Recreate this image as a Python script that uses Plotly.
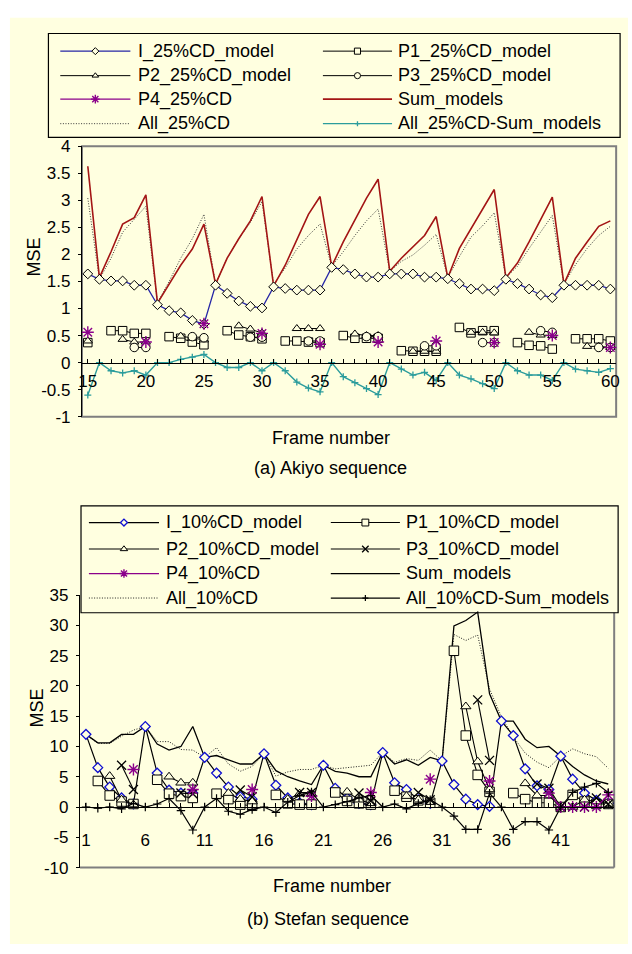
import plotly.graph_objects as go

W, H = 632, 954

# ---------------- (a) Akiyo sequence : frames 15..60 ----------------
frames_a = list(range(15, 61))
i_a = [1.64, 1.54, 1.51, 1.51, 1.43, 1.43,
       1.07, 0.96, 0.92, 0.78, 0.71,
       1.43, 1.28, 1.14, 1.04, 1.01,
       1.40, 1.37, 1.34, 1.34, 1.34,
       1.76, 1.72, 1.64, 1.58, 1.58,
       1.64, 1.64, 1.64, 1.58, 1.58,
       1.55, 1.46, 1.36, 1.36, 1.33,
       1.54, 1.46, 1.36, 1.25, 1.20,
       1.43, 1.43, 1.43, 1.43, 1.36]
p1_a = [0.37, None, 0.59, 0.59, 0.54, 0.54,
        None, 0.48, 0.45, 0.38, 0.33,
        None, 0.59, 0.51, 0.48, 0.44,
        None, 0.40, 0.40, 0.38, 0.37,
        None, 0.50, 0.45, 0.45, 0.45,
        None, 0.22, 0.21, 0.21, 0.21,
        None, 0.65, 0.55, 0.59, 0.59,
        None, 0.37, 0.32, 0.31, 0.25,
        None, 0.44, 0.44, 0.44, 0.40]
p2_a = [0.40, None, None, 0.43, 0.38, 0.38,
        None, None, 0.49, 0.45, 0.42,
        None, None, 0.68, 0.62, 0.55,
        None, None, 0.63, 0.63, 0.63,
        None, None, 0.53, 0.50, 0.50,
        None, None, 0.21, 0.21, 0.21,
        None, None, 0.56, 0.56, 0.55,
        None, None, 0.56, 0.51, 0.50,
        None, None, 0.30, 0.30, 0.28]
p3_a = [None, None, None, None, 0.28, 0.28,
        None, None, None, 0.48, 0.46,
        None, None, None, 0.47, 0.47,
        None, None, None, 0.40, 0.40,
        None, None, None, 0.48, 0.48,
        None, None, None, 0.31, 0.31,
        None, None, None, 0.37, 0.37,
        None, None, None, 0.59, 0.56,
        None, None, None, 0.28, 0.28]
p4_a = [0.56, None, None, None, None, 0.38,
        None, None, None, None, 0.72,
        None, None, None, None, 0.54,
        None, None, None, None, 0.34,
        None, None, None, None, 0.38,
        None, None, None, None, 0.40,
        None, None, None, None, 0.37,
        None, None, None, None, 0.50,
        None, None, None, None, 0.28]
sum_a = [3.63, 1.57, 2.05, 2.56, 2.68, 3.10,
         1.10, 1.45, 1.80, 2.10, 2.56,
         1.45, 1.93, 2.29, 2.62, 3.07,
         1.42, 1.80, 2.26, 2.74, 3.07,
         1.78, 2.23, 2.65, 3.04, 3.39,
         1.69, 1.93, 2.14, 2.35, 2.70,
         1.57, 2.11, 2.47, 2.83, 3.20,
         1.57, 1.84, 2.23, 2.65, 3.06,
         1.45, 1.93, 2.23, 2.52, 2.62]
all_a = [3.04, 1.54, 1.93, 2.41, 2.65, 2.89,
         1.11, 1.50, 1.93, 2.29, 2.74,
         1.45, 1.93, 2.29, 2.59, 2.98,
         1.45, 1.75, 2.10, 2.35, 2.56,
         1.78, 2.05, 2.35, 2.62, 2.84,
         1.69, 1.87, 1.99, 2.17, 2.37,
         1.57, 1.96, 2.32, 2.53, 2.77,
         1.57, 1.78, 2.11, 2.41, 2.72,
         1.45, 1.81, 2.11, 2.35, 2.52]
diff_a = [-0.60, 0.00, -0.15, -0.19, -0.15, -0.23,
          0.00, 0.00, 0.06, 0.10, 0.15,
          0.00, -0.09, -0.09, 0.00, -0.15,
          0.00, -0.15, -0.36, -0.47, -0.54,
          0.00, -0.26, -0.37, -0.48, -0.59,
          0.00, -0.12, -0.23, -0.18, -0.33,
          0.00, -0.23, -0.30, -0.39, -0.48,
          0.00, -0.15, -0.23, -0.23, -0.33,
          0.00, -0.12, -0.15, -0.18, -0.11]

# ---------------- (b) Stefan sequence : frames 1..45 ----------------
frames_b = list(range(1, 46))
i_b = [12.0, 6.5, 3.3, 1.5, 0.5,
       13.3, 5.6, 2.8, 2.3, 2.3,
       8.2, 5.6, 3.3, 1.7, 1.3,
       8.8, 3.6, 1.5, 0.7, 0.4,
       6.9, 3.1, 1.5, 0.6, 0.4,
       9.0, 4.0, 2.9, 1.2, 0.6,
       7.6, 3.7, 1.3, 0.4, 0.1,
       14.2, 11.8, 6.3, 3.5, 2.9,
       8.4, 4.6, 2.3, 1.1, 0.6]
p1_b = [None, 4.3, 1.9, 0.9, 0.5,
        None, 4.5, 2.2, 1.8, 1.5,
        None, 2.2, 1.3, 0.4, 0.2,
        None, 2.0, 0.6, 0.4, 0.4,
        None, 2.4, 1.0, 0.6, 0.4,
        None, 2.7, 1.7, 1.1, 0.7,
        None, 25.8, 11.8, 5.3, 2.5,
        None, 2.3, 1.3, 0.7, 0.7,
        0.0, 2.0, 0.9, 0.5, 0.5]
p2_b = [None, None, 5.1, 1.2, 0.4,
        None, None, 5.0, 4.0, 4.0,
        None, None, 2.3, 1.3, 0.9,
        None, None, 1.3, 2.2, 2.2,
        None, None, 2.5, 1.2, 0.6,
        None, None, 1.8, 1.2, 0.8,
        None, None, 16.6, 7.5, 2.9,
        None, None, 3.9, 1.9, 1.9,
        0.0, 0.0, 1.2, 0.9, 0.5]
p3_b = [None, None, None, 6.9, 2.9,
        None, None, None, 2.3, 2.2,
        None, None, None, 2.8, 1.7,
        None, None, None, 2.4, 2.4,
        None, None, None, 2.3, 1.0,
        None, None, None, 2.4, 1.2,
        None, None, None, 17.7, 7.7,
        None, None, None, 3.8, 3.1,
        0.0, 0.0, 0.0, 1.5, 0.5]
p4_b = [None, None, None, None, 6.2,
        None, None, None, None, 2.9,
        None, None, None, None, 2.9,
        None, None, None, None, 1.8,
        None, None, None, None, 2.4,
        None, None, None, None, 4.6,
        None, None, None, None, 4.3,
        None, None, None, None, 2.3,
        0.0, 0.0, 0.0, 0.0, 2.0]
sum_b = [12.0, 10.6, 10.6, 12.0, 12.0,
         13.3, 10.4, 9.4, 10.0, 13.3,
         8.2, 8.5, 7.8, 7.1, 7.1,
         8.8, 6.0, 5.0, 4.3, 3.7,
         6.9, 5.9, 5.6, 5.0, 5.0,
         9.0, 7.1, 7.8, 6.9, 8.2,
         7.6, 29.9, 30.8, 32.2, 18.7,
         14.2, 14.2, 11.2, 9.8, 10.0,
         8.4, 6.7, 5.3, 4.3, 3.8]
all_b = [12.0, 10.5, 10.5, 11.7, 12.7,
         13.3, 10.8, 10.8, 9.5, 9.4,
         8.2, 9.8, 7.1, 5.9, 6.7,
         8.8, 5.1, 5.8, 6.2, 6.2,
         6.9, 6.3, 6.5, 6.7, 6.9,
         9.0, 7.4, 8.0, 7.7, 9.4,
         7.6, 28.5, 27.5, 28.4, 19.5,
         14.9, 11.6, 8.9, 7.4, 6.5,
         8.4, 9.6, 8.8, 8.3, 6.4]
diff_b = [0.0, -0.2, 0.0, -0.3, 0.6,
          0.0, 0.5, 1.4, -0.6, -3.8,
          0.0, 1.4, -0.7, -1.2, -0.4,
          0.0, -0.9, 0.8, 1.9, 2.5,
          0.0, 0.4, 0.9, 1.5, 1.9,
          0.0, 0.5, -0.3, 0.6, 1.2,
          0.0, -1.5, -3.7, -3.7, 2.3,
          0.0, -3.7, -2.4, -2.4, -3.8,
          0.0, 2.4, 3.3, 3.9, 2.4]

# ---------------- tick labels & names ----------------
ytick_a = [-1, -0.5, 0, 0.5, 1, 1.5, 2, 2.5, 3, 3.5, 4]
ytext_a = ["-1", "-0.5", "0", "0.5", "1", "1.5", "2", "2.5", "3", "3.5", "4"]
xtick_a = [15, 20, 25, 30, 35, 40, 45, 50, 55, 60]
ytick_b = [-10, -5, 0, 5, 10, 15, 20, 25, 30, 35]
ytext_b = ["-10", "-5", "0", "5", "10", "15", "20", "25", "30", "35"]
xtick_b = [1, 6, 11, 16, 21, 26, 31, 36, 41]

names_a = ["I_25%CD_model", "P1_25%CD_model", "P2_25%CD_model", "P3_25%CD_model",
           "P4_25%CD", "Sum_models", "All_25%CD", "All_25%CD-Sum_models"]
names_b = ["I_10%CD_model", "P1_10%CD_model", "P2_10%CD_model", "P3_10%CD_model",
           "P4_10%CD", "Sum_models", "All_10%CD", "All_10%CD-Sum_models"]

# ---------------- styling / layout constants ----------------
CREAM = "#FFFFE0"
FONT = "Liberation Sans, Arial, sans-serif"
PURPLE = "#8B008B"
BLACK = "#000000"
DOTS = "1px,1.6px"


def fx(p):
    return p / W


def fy(p):
    return 1 - p / H


BOX_A = (79, 140, 620, 416)   # left, top, right, bottom (px)
BOX_B = (77, 598, 618, 876)
YR_A = (-1, 4)
YR_B = (-10, 35)
LEG_A = dict(box=(45, 25, 624, 131), rows=[43, 68, 92, 117],
             cols=[(57, 128, 134), (323, 393, 397)])
LEG_B = dict(box=(78, 507, 622, 616), rows=[524, 551, 576, 601],
             cols=[(86, 157, 162), (331, 401, 405)])


def mk(symbol, size, fill=CREAM, edge=BLACK, width=1.0):
    return dict(symbol=symbol, size=size, color=fill, line=dict(color=edge, width=width))


styles_a = [
    dict(line=dict(color="#2626A6", width=1.3), marker=mk("diamond", 7.5)),
    dict(line=dict(color=BLACK, width=1), marker=mk("square", 8.5)),
    dict(line=dict(color=BLACK, width=1), marker=mk("triangle-up", 8)),
    dict(line=dict(color=BLACK, width=1), marker=mk("circle", 8.5)),
    dict(line=dict(color=PURPLE, width=1.3), marker=mk("asterisk-open", 10, PURPLE, PURPLE, 1.4)),
    dict(line=dict(color="#A31515", width=1.6), marker=None),
    dict(line=dict(color="#3A3A3A", width=1, dash=DOTS), marker=None),
    dict(line=dict(color="#2B9C9C", width=1.4), marker=mk("cross-thin-open", 5, "#2B9C9C", "#2B9C9C", 1.3)),
]
styles_b = [
    dict(line=dict(color=BLACK, width=1.2), marker=mk("diamond", 7.5, CREAM, "#1010D0", 1.3)),
    dict(line=dict(color=BLACK, width=1.1), marker=mk("square", 9.5)),
    dict(line=dict(color=BLACK, width=1.1), marker=mk("triangle-up", 9)),
    dict(line=dict(color=BLACK, width=1.1), marker=mk("x-thin-open", 9, BLACK, BLACK, 1.3)),
    dict(line=dict(color=PURPLE, width=1.3), marker=mk("asterisk-open", 10, PURPLE, PURPLE, 1.4)),
    dict(line=dict(color=BLACK, width=1.3), marker=None),
    dict(line=dict(color="#202020", width=1, dash=DOTS), marker=None),
    dict(line=dict(color=BLACK, width=1.2), marker=mk("cross-thin-open", 6, BLACK, BLACK, 1.2)),
]

fig = go.Figure()


def add(x, y, st, xa, ya):
    mode = "lines+markers" if st["marker"] else "lines"
    kw = dict(x=x, y=y, xaxis=xa, yaxis=ya, mode=mode, line=st["line"],
              showlegend=False, hoverinfo="x+y", connectgaps=False, cliponaxis=False)
    if st["marker"]:
        kw["marker"] = st["marker"]
    fig.add_trace(go.Scatter(**kw))


# chart (a): draw order dotted, sum, diff, I, P1..P4
series_a = [i_a, p1_a, p2_a, p3_a, p4_a, sum_a, all_a, diff_a]
for k in [6, 5]:
    add(frames_a, series_a[k], styles_a[k], "x", "y")
add(frames_a, diff_a, styles_a[7], "x3", "y")
for k in [0, 1, 2, 3, 4]:
    add(frames_a, series_a[k], styles_a[k], "x", "y")

series_b = [i_b, p1_b, p2_b, p3_b, p4_b, sum_b, all_b, diff_b]
for k in [6, 5]:
    add(frames_b, series_b[k], styles_b[k], "x2", "y2")
add(frames_b, diff_b, styles_b[7], "x4", "y2")
for k in [0, 1, 2, 3, 4]:
    add(frames_b, series_b[k], styles_b[k], "x2", "y2")

# ---------------- hand-drawn legends (pixel overlay axes x9/y9) ----------------
annotations = []
shapes = [dict(type="rect", xref="paper", yref="paper", x0=fx(6), x1=1, y0=0, y1=fy(9),
               fillcolor=CREAM, line=dict(width=0), layer="below")]


def legend(spec, names, styles):
    l, t, r, b = spec["box"]
    shapes.append(dict(type="rect", xref="paper", yref="paper", x0=fx(l), x1=fx(r),
                       y0=fy(b), y1=fy(t), line=dict(color=BLACK, width=1.2),
                       fillcolor="rgba(0,0,0,0)", layer="above"))
    for idx, (nm, st) in enumerate(zip(names, styles)):
        row = spec["rows"][idx // 2]
        x0, x1, xt = spec["cols"][idx % 2]
        fig.add_trace(go.Scatter(x=[x0, x1], y=[row, row], xaxis="x9", yaxis="y9",
                                 mode="lines", line=st["line"], showlegend=False,
                                 hoverinfo="skip", cliponaxis=False))
        if st["marker"]:
            m = dict(st["marker"])
            m["size"] = m["size"] * 0.72
            fig.add_trace(go.Scatter(x=[(x0 + x1) / 2], y=[row], xaxis="x9", yaxis="y9",
                                     mode="markers", marker=m, showlegend=False,
                                     hoverinfo="skip", cliponaxis=False))
        annotations.append(dict(text=nm, x=fx(xt), y=fy(row), xref="paper", yref="paper",
                                xanchor="left", yanchor="middle", showarrow=False,
                                font=dict(size=18, family=FONT, color=BLACK)))


legend(LEG_A, names_a, styles_a)
legend(LEG_B, names_b, styles_b)

# plot frames
la, ta, ra, ba = BOX_A
shapes.append(dict(type="rect", xref="paper", yref="paper", x0=fx(la), x1=fx(ra),
                   y0=fy(ba), y1=fy(ta), line=dict(color="#7F7F7F", width=2), layer="below"))
lb, tb, rb, bb = BOX_B
shapes.append(dict(type="line", xref="paper", yref="paper", x0=fx(rb), x1=fx(rb),
                   y0=fy(bb), y1=fy(LEG_B["box"][3]), line=dict(color="#7F7F7F", width=2), layer="below"))
shapes.append(dict(type="line", xref="paper", yref="paper", x0=fx(lb), x1=fx(rb),
                   y0=fy(bb), y1=fy(bb), line=dict(color="#7F7F7F", width=2), layer="below"))


def text(t, xp, yp, size=18, angle=0):
    annotations.append(dict(text=t, x=fx(xp), y=fy(yp), xref="paper", yref="paper",
                            xanchor="center", yanchor="middle", showarrow=False,
                            textangle=angle, font=dict(size=size, family=FONT, color=BLACK)))


text("MSE", 30, 253, 18, -90)
text("Frame number", 331, 438)
text("(a) Akiyo sequence", 331, 468, 18)
text("MSE", 33, 713, 18, -90)
text("Frame number", 332, 895)
text("(b) Stefan sequence", 328, 928, 18)

# axes
yd_a = [fy(ba), fy(ta)]
yd_b = [fy(bb), fy(tb)]
zero_a = yd_a[0] + (0 - YR_A[0]) / (YR_A[1] - YR_A[0]) * (yd_a[1] - yd_a[0])
zero_b = yd_b[0] + (0 - YR_B[0]) / (YR_B[1] - YR_B[0]) * (yd_b[1] - yd_b[0])

tickfont = dict(size=17, family=FONT, color=BLACK)
hidden_x = dict(showticklabels=False, ticks="", showgrid=False, zeroline=False,
                showline=False, fixedrange=True)


def yax(domain, rng, tv, tt, anchor):
    return dict(domain=domain, range=list(rng), tickvals=tv, ticktext=tt, ticks="outside",
                ticklen=3, tickcolor=BLACK, showline=True, linecolor=BLACK, linewidth=1.2,
                showgrid=False, zeroline=False, tickfont=tickfont, anchor=anchor,
                fixedrange=True, ticklabelstandoff=4)


def zax(over, pos, rng, tv, first, standoff):
    return dict(overlaying=over, anchor="free", position=pos, range=list(rng), tickvals=tv,
                ticks="inside", ticklen=4, tickcolor=BLACK, showline=True, linecolor=BLACK,
                linewidth=1, showgrid=False, zeroline=False, tickfont=tickfont,
                minor=dict(ticks="inside", ticklen=4, dtick=1, tick0=first, tickcolor=BLACK,
                           showgrid=False),
                ticklabelstandoff=standoff, fixedrange=True, layer="above traces")


rng_xa = (frames_a[0] - 0.5, frames_a[-1] + 0.5)
rng_xb = (frames_b[0] - 0.5, frames_b[-1] + 0.5)

fig.update_layout(
    width=W, height=H, autosize=False,
    margin=dict(l=0, r=0, t=0, b=0, pad=0),
    paper_bgcolor="white", plot_bgcolor="rgba(0,0,0,0)",
    font=dict(family=FONT, size=17, color=BLACK),
    showlegend=False,
    xaxis=dict(domain=[fx(la), fx(ra)], range=list(rng_xa), anchor="y", **hidden_x),
    yaxis=yax(yd_a, YR_A, ytick_a, ytext_a, "x"),
    xaxis3=zax("x", zero_a, rng_xa, xtick_a, frames_a[0], 3),
    xaxis2=dict(domain=[fx(lb), fx(rb)], range=list(rng_xb), anchor="y2", **hidden_x),
    yaxis2=yax(yd_b, YR_B, ytick_b, ytext_b, "x2"),
    xaxis4=zax("x2", zero_b, rng_xb, xtick_b, frames_b[0], 18),
    xaxis9=dict(domain=[0, 1], range=[0, W], anchor="y9", visible=False, fixedrange=True),
    yaxis9=dict(domain=[0, 1], range=[H, 0], anchor="x9", visible=False, fixedrange=True),
    shapes=shapes,
    annotations=annotations,
)

fig.write_html("out.html", include_plotlyjs=True, config={"displayModeBar": False},
               post_script="document.body.style.margin='0';document.body.style.overflow='hidden';")
